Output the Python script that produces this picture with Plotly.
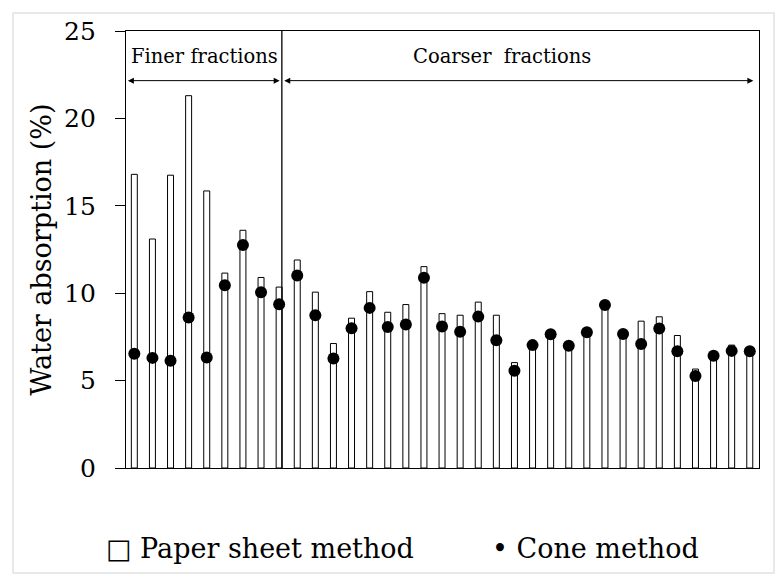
import plotly.graph_objects as go

samples = list(range(1, 36))
paper_sheet = [16.8, 13.1, 16.75, 21.3, 15.85, 11.15, 13.6, 10.9, 10.35,
               11.9, 10.06, 7.12, 8.57, 10.09, 8.91, 9.35, 11.52, 8.83, 8.74, 9.49, 8.74, 6.03,
               7.0, 7.6, 7.0, 7.75, 9.3, 7.65, 8.40, 8.65, 7.58, 5.66, 6.4, 7.03, 6.7]
cone = [6.53, 6.30, 6.13, 8.61, 6.32, 10.46, 12.76, 10.06, 9.37,
        11.01, 8.74, 6.26, 8.00, 9.16, 8.07, 8.21, 10.89, 8.09, 7.79, 8.66, 7.31, 5.56,
        7.03, 7.65, 6.99, 7.77, 9.33, 7.67, 7.10, 7.98, 6.68, 5.26, 6.42, 6.70, 6.68]
y_ticks = [0, 5, 10, 15, 20, 25]
divider = 9.15
arrow_y = 22.16
label_y = 23.53

FONT = "DejaVu Serif"

fig = go.Figure()
fig.add_trace(go.Bar(x=samples, y=paper_sheet, width=0.33, name="Paper sheet method",
                     marker=dict(color="white", line=dict(color="black", width=1))))
fig.add_trace(go.Scatter(x=samples, y=cone, mode="markers", name="Cone method",
                         marker=dict(color="black", size=12, symbol="circle")))

fig.update_layout(
    width=780, height=575,
    margin=dict(l=126, r=21, t=31, b=107),
    paper_bgcolor="white", plot_bgcolor="white",
    showlegend=False,
    font=dict(family=FONT, color="black"),
    xaxis=dict(range=[0.54, 35.51], showticklabels=False, ticks="", showgrid=False,
               zeroline=False, showline=True, linecolor="black", linewidth=1.3, mirror=True),
    yaxis=dict(range=[0, 25], tickvals=y_ticks, ticks="outside", ticklen=10, tickwidth=1.3,
               tickcolor="black", showgrid=False, zeroline=False, showline=True,
               linecolor="black", linewidth=1.3, mirror=True, ticklabelstandoff=14,
               tickfont=dict(size=25, family=FONT),
               title=dict(text="Water absorption (%)", font=dict(size=27, family=FONT), standoff=4)),
)

# outer light border
fig.add_shape(type="rect", xref="paper", yref="paper", x0=-0.1785, x1=1.0237, y0=-0.2403, y1=1.0412,
              line=dict(color="#e2e2e2", width=1.5), layer="below")
# divider
fig.add_shape(type="line", xref="x", yref="y", x0=divider, x1=divider, y0=0, y1=25,
              line=dict(color="black", width=1.3))

# arrows
for x0, x1 in [(0.56, divider - 0.12), (divider + 0.05, 35.2)]:
    fig.add_annotation(x=x1, y=arrow_y, ax=x0, ay=arrow_y, xref="x", yref="y", axref="x", ayref="y",
                       text="", showarrow=True, arrowhead=2, arrowside="end+start",
                       arrowsize=1.2, arrowwidth=1, arrowcolor="black")

fig.add_annotation(x=4.85, y=label_y, xref="x", yref="y", text="Finer fractions", showarrow=False,
                   font=dict(size=19.5, family=FONT))
fig.add_annotation(x=21.33, y=label_y, xref="x", yref="y", text="Coarser  fractions", showarrow=False,
                   font=dict(size=19.5, family=FONT))

# legend text
fig.add_annotation(x=-0.035, y=-0.185, xref="paper", yref="paper", xanchor="left", yanchor="middle",
                   text="□ Paper sheet method", showarrow=False, font=dict(size=27, family=FONT))
fig.add_annotation(x=0.575, y=-0.185, xref="paper", yref="paper", xanchor="left", yanchor="middle",
                   text="• Cone method", showarrow=False, font=dict(size=27, family=FONT))

fig.write_html("out.html")
